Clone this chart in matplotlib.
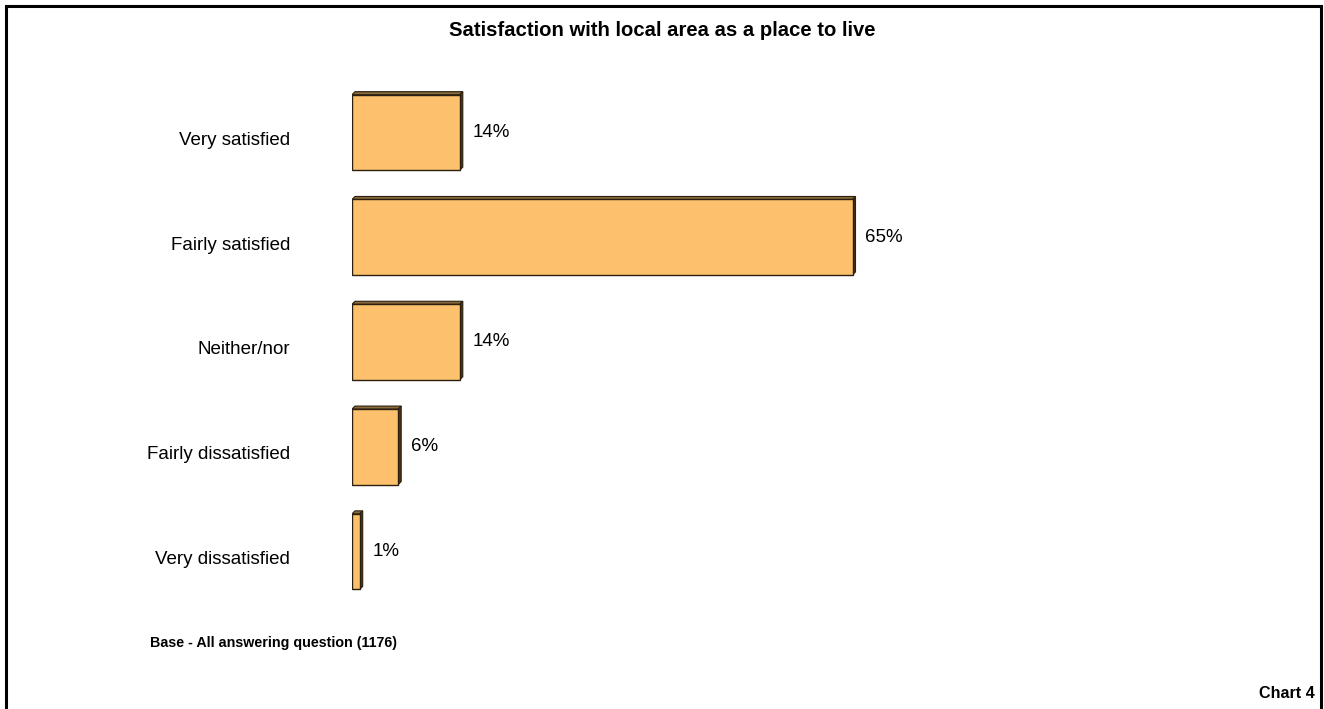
import matplotlib
matplotlib.use("Agg")
import matplotlib.pyplot as plt
from matplotlib.patches import Polygon, Rectangle

plt.rcParams['font.family'] = ['Liberation Sans', 'DejaVu Sans']

categories = ["Very satisfied", "Fairly satisfied", "Neither/nor",
              "Fairly dissatisfied", "Very dissatisfied"]
values = [14, 65, 14, 6, 1]
title = "Satisfaction with local area as a place to live"
base_note = "Base - All answering question (1176)"
chart_tag = "Chart 4"

W, H, DPI = 1324, 709, 100
fig = plt.figure(figsize=(W / DPI, H / DPI), dpi=DPI)
fig.patch.set_facecolor("white")

# Outer frame (open at the bottom)
frame_x0, frame_x1, frame_y1 = 6 / W, 1321 / W, 1 - 6 / H
fig.add_artist(plt.Line2D([frame_x0, frame_x0, frame_x1, frame_x1],
                          [0, frame_y1, frame_y1, 0],
                          transform=fig.transFigure, color="black", lw=2.2,
                          solid_joinstyle="miter"))

# Plot area: bars start at x=352px, 1% ~ 7.7px
ax_left, ax_width = 352 / W, 770 / W
ax_top, ax_bottom = 80, 604
ax = fig.add_axes([ax_left, 1 - ax_bottom / H, ax_width, (ax_bottom - ax_top) / H])
ax.set_xlim(0, 100)
ax.set_ylim(len(categories) - 0.5, -0.5)
ax.axis("off")

bar_h = 0.72
face = "#FDC06C"
side = "#4a3418"
edge = "#2b2010"
# depth of the 3D effect in data units (~3px)
dx = 3 / 7.7
dy = 3 / ((ax_bottom - ax_top) / len(categories))

for i, (cat, v) in enumerate(zip(categories, values)):
    y0 = i - bar_h / 2
    y1 = i + bar_h / 2
    # top face
    ax.add_patch(Polygon([(0, y0), (dx, y0 - dy), (v + dx, y0 - dy), (v, y0)],
                         closed=True, facecolor="#8a6a3a", edgecolor=edge, lw=0.8))
    # right side face
    ax.add_patch(Polygon([(v, y0), (v + dx, y0 - dy), (v + dx, y1 - dy), (v, y1)],
                         closed=True, facecolor=side, edgecolor=edge, lw=0.8))
    # front face
    ax.add_patch(Rectangle((0, y0), v, bar_h, facecolor=face, edgecolor=edge, lw=1.0))
    ax.text(v + 13 / 7.7, i, f"{v}%", ha="left", va="center", fontsize=13.5)
    fig.text(290 / W, 1 - (ax_top + (i + 0.5) * (ax_bottom - ax_top) / len(categories) + 8) / H,
             cat, ha="right", va="center", fontsize=13.5)

fig.text(662 / W, 1 - 31 / H, title, ha="center", va="center",
         fontsize=14.6, fontweight="bold")
fig.text(150 / W, 1 - 643 / H, base_note, ha="left", va="center",
         fontsize=10.3, fontweight="bold")
fig.text(1315 / W, 1 - 694 / H, chart_tag, ha="right", va="center",
         fontsize=11.6, fontweight="bold")

fig.savefig("out.png", dpi=DPI)
